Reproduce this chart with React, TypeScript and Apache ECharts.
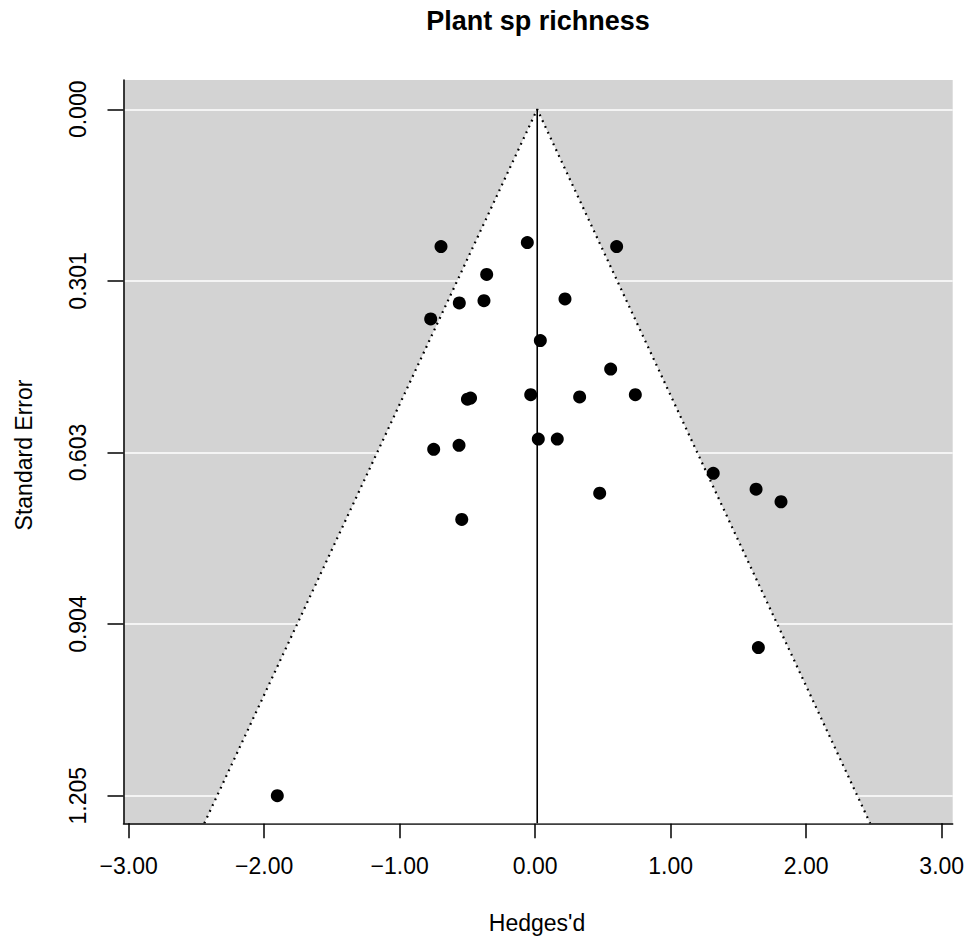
import React, { useEffect, useRef } from 'react';
import * as echarts from 'echarts';

const titleText = 'Plant sp richness';
const xAxisTitle = "Hedges'd";
const yAxisTitle = 'Standard Error';

// Effect sizes (Hedges' d) and their standard errors
const hedgesD = [
  -0.695, -0.058, 0.601, -0.358, -0.56, -0.378, 0.22, -0.771, 0.038, 0.557,
  -0.5, -0.477, -0.033, 0.328, 0.739, -0.749, -0.562, 0.023, 0.163, 1.314,
  0.476, 1.63, 1.814, -0.542, 1.647, -1.903,
];
const standardError = [
  0.241, 0.234, 0.241, 0.29, 0.34, 0.336, 0.333, 0.368, 0.406, 0.456,
  0.509, 0.507, 0.501, 0.505, 0.501, 0.597, 0.59, 0.579, 0.579, 0.639,
  0.674, 0.667, 0.689, 0.72, 0.945, 1.205,
];

const xTicks = [-3, -2, -1, 0, 1, 2, 3];
const xTickLabels = ['\u22123.00', '\u22122.00', '\u22121.00', '0.00', '1.00', '2.00', '3.00'];
const yTicks = [0, 0.30125, 0.6025, 0.90375, 1.205];
const yTickLabels = ['0.000', '0.301', '0.603', '0.904', '1.205'];

const refLine = 0.015;
const zCrit = 1.96;
const xRange = [-3.038, 3.081];
const seRange = [-0.0514, 1.2535];

const FONT = '"Liberation Sans", Arial, Helvetica, sans-serif';

const pick = (ticks: number[], labels: string[]) => (v: number) => {
  const i = ticks.findIndex((t) => Math.abs(t - v) < 1e-6);
  return i >= 0 ? labels[i] : '';
};

export default function App() {
  const ref = useRef<HTMLDivElement>(null);

  useEffect(() => {
    document.body.style.margin = '0';
    if (!ref.current) return;
    const chart = echarts.init(ref.current, undefined, { renderer: 'svg' });
    const seMax = seRange[1];
    const funnel = [
      [refLine - zCrit * seMax, seMax],
      [refLine, 0],
      [refLine + zCrit * seMax, seMax],
    ];
    const points = hedgesD.map((d, i) => [d, standardError[i]]);

    chart.setOption({
      animation: false,
      backgroundColor: '#ffffff',
      textStyle: { fontFamily: FONT },
      grid: {
        left: 123.5,
        right: 16.3,
        top: 80,
        bottom: 116.7,
        show: true,
        backgroundColor: '#d3d3d3',
        borderWidth: 0,
        containLabel: false,
        outerBoundsMode: 'none',
      },
      xAxis: {
        type: 'value',
        min: xRange[0],
        max: xRange[1],
        axisLine: { show: true, onZero: false, lineStyle: { color: '#000', width: 1.5 } },
        axisTick: {
          show: true,
          length: 15,
          customValues: xTicks,
          lineStyle: { color: '#000', width: 1.5 },
        },
        axisLabel: {
          customValues: xTicks,
          formatter: pick(xTicks, xTickLabels),
          fontSize: 23,
          color: '#000',
          fontFamily: FONT,
          margin: 31,
        },
        splitLine: { show: false },
      },
      yAxis: {
        type: 'value',
        inverse: true,
        min: seRange[0],
        max: seRange[1],
        axisLine: { show: true, onZero: false, lineStyle: { color: '#000', width: 1.5 } },
        axisTick: {
          show: true,
          length: 16,
          customValues: yTicks,
          lineStyle: { color: '#000', width: 1.5 },
        },
        axisLabel: {
          customValues: yTicks,
          formatter: pick(yTicks, yTickLabels),
          rotate: 90,
          fontSize: 23,
          color: '#000',
          fontFamily: FONT,
          margin: 34,
        },
        splitLine: { show: true, lineStyle: { color: '#ffffff', width: 1.5 } },
      },
      graphic: [
        {
          type: 'text',
          x: 538,
          y: 21,
          style: {
            text: titleText,
            font: `bold 27px ${FONT}`,
            fill: '#000',
            align: 'center',
            verticalAlign: 'middle',
          },
        },
        {
          type: 'text',
          x: 537,
          y: 923,
          style: {
            text: xAxisTitle,
            font: `23px ${FONT}`,
            fill: '#000',
            align: 'center',
            verticalAlign: 'middle',
          },
        },
        {
          type: 'text',
          x: 24,
          y: 455,
          rotation: Math.PI / 2,
          style: {
            text: yAxisTitle,
            font: `23px ${FONT}`,
            fill: '#000',
            align: 'center',
            verticalAlign: 'middle',
          },
        },
      ],
      series: [
        {
          type: 'custom',
          silent: true,
          z: 1,
          data: [0],
          renderItem: (_params: any, api: any) => {
            const pts = funnel.map((p) => api.coord(p));
            return { type: 'polygon', shape: { points: pts }, style: { fill: '#ffffff' } };
          },
        },
        {
          type: 'line',
          z: 3,
          silent: true,
          symbol: 'none',
          data: funnel,
          lineStyle: { color: '#000', width: 2.2, type: [1.8, 4.6] },
        },
        {
          type: 'line',
          z: 3,
          silent: true,
          symbol: 'none',
          data: [
            [refLine, 0],
            [refLine, seMax],
          ],
          lineStyle: { color: '#000', width: 1.6, type: 'solid' },
        },
        {
          type: 'scatter',
          z: 5,
          symbol: 'circle',
          symbolSize: 13,
          itemStyle: { color: '#000', opacity: 1 },
          data: points,
        },
      ],
    });
    return () => chart.dispose();
  }, []);

  return <div ref={ref} style={{ width: 969, height: 940 }} />;
}
